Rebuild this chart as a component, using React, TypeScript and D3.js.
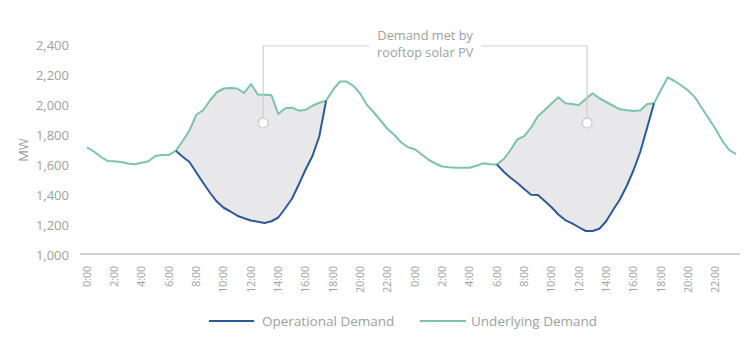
import React from "react";
import * as d3 from "d3";

const xTickLabels = [
  "0:00","2:00","4:00","6:00","8:00","10:00","12:00","14:00","16:00","18:00","20:00","22:00",
  "0:00","2:00","4:00","6:00","8:00","10:00","12:00","14:00","16:00","18:00","20:00","22:00",
];
const yTicks = [1000, 1200, 1400, 1600, 1800, 2000, 2200, 2400];

// half-hourly, two days (96 points)
const underlyingDemand = [
  1718,1690,1655,1627,1625,1620,1610,1605,1615,1625,1660,1667,1667,1695,1760,1830,
  1935,1965,2030,2085,2110,2113,2110,2080,2140,2070,2068,2065,1940,1978,1982,1962,
  1968,1995,2015,2029,2100,2156,2156,2127,2075,2000,1950,1895,1840,1800,1750,1718,
  1705,1670,1635,1610,1590,1585,1582,1582,1582,1595,1611,1605,1604,1640,1700,1771,
  1793,1850,1925,1967,2010,2051,2011,2007,2000,2040,2078,2045,2020,1995,1971,1965,
  1960,1965,2007,2011,2100,2184,2160,2130,2096,2051,1980,1910,1840,1760,1700,1673,
];
const operationalDemand: (number | null)[] = [
  null,null,null,null,null,null,null,null,null,null,null,null,null,1695,1655,1620,
  1550,1482,1415,1356,1315,1290,1262,1245,1230,1222,1213,1225,1250,1310,1375,1470,
  1570,1660,1790,2029,null,null,null,null,null,null,null,null,null,null,null,null,
  null,null,null,null,null,null,null,null,null,null,null,null,1604,1555,1515,1480,
  1440,1402,1400,1360,1318,1270,1233,1211,1185,1160,1160,1175,1225,1300,1370,1460,
  1565,1690,1850,2011,null,null,null,null,null,null,null,null,null,null,null,null,
];
const annotationText = ["Demand met by", "rooftop solar PV"];
const annotationAt = [25.8, 73.2]; // half-hour positions of the markers
const annotationValue = 1880;
const seriesNames = ["Operational Demand", "Underlying Demand"];

const GREEN = "#7dc3a7";
const BLUE = "#2d5a97";
const GREY = "#a0a0a0";
const FONT = "'Open Sans', Lato, sans-serif";

export default function App() {
  const W = 747, H = 344;
  const x = d3.scaleLinear().domain([0, 95]).range([87, 736]);
  const y = d3.scaleLinear().domain([1000, 2400]).range([255, 45]);

  const idx = underlyingDemand.map((_, i) => i);
  const greenLine = d3.line<number>().x((i) => x(i)).y((i) => y(underlyingDemand[i]))(idx) || "";
  const blueLine =
    d3
      .line<number>()
      .defined((i) => operationalDemand[i] != null)
      .x((i) => x(i))
      .y((i) => y(operationalDemand[i] as number))(idx) || "";
  const area =
    d3
      .area<number>()
      .defined((i) => operationalDemand[i] != null)
      .x((i) => x(i))
      .y0((i) => y(operationalDemand[i] as number))
      .y1((i) => y(underlyingDemand[i]))(idx) || "";

  const bracketY = 46;
  const ax0 = x(annotationAt[0]);
  const ax1 = x(annotationAt[1]);
  const cx = (ax0 + ax1) / 2;

  return (
    <svg width={W} height={H} style={{ position: "absolute", left: 0, top: 0, background: "#fff" }}>
      <path d={area} fill="#e8e8eb" />
      {yTicks.map((t) => (
        <text key={t} x={69} y={y(t)} dy="0.35em" textAnchor="end" fontFamily={FONT} fontSize={13} fill={GREY}>
          {d3.format(",")(t)}
        </text>
      ))}
      <text
        transform={`translate(23,${y(1700)}) rotate(-90)`}
        textAnchor="middle"
        dy="0.35em"
        fontFamily={FONT}
        fontSize={13}
        fill={GREY}
      >
        MW
      </text>
      <line x1={80} x2={740} y1={254} y2={254} stroke="#d2d2d2" strokeWidth={2} />
      {xTickLabels.map((l, k) => (
        <text
          key={k}
          transform={`translate(${x(k * 4)},266) rotate(-90)`}
          textAnchor="end"
          dy="0.35em"
          fontFamily={FONT}
          fontSize={10.5}
          fill={GREY}
        >
          {l}
        </text>
      ))}
      <path d={greenLine} fill="none" stroke={GREEN} strokeWidth={2} strokeLinejoin="round" />
      <path d={blueLine} fill="none" stroke={BLUE} strokeWidth={2} strokeLinejoin="round" />
      <path
        d={`M${ax0},${y(annotationValue)}V${bracketY}H${cx - 56}M${cx + 56},${bracketY}H${ax1}V${y(annotationValue)}`}
        fill="none"
        stroke="#cfcfcf"
        strokeWidth={1.2}
      />
      {[ax0, ax1].map((p, k) => (
        <circle key={k} cx={p} cy={y(annotationValue)} r={5} fill="#fff" stroke="#cfcfcf" strokeWidth={1.5} />
      ))}
      {annotationText.map((t, k) => (
        <text key={k} x={cx} y={36 + k * 17} dy="0.35em" textAnchor="middle" fontFamily={FONT} fontSize={12.8} fill={GREY}>
          {t}
        </text>
      ))}
      <line x1={209} x2={254} y1={321} y2={321} stroke={BLUE} strokeWidth={2} />
      <text x={262} y={321} dy="0.35em" fontFamily={FONT} fontSize={13.5} fill={GREY}>
        {seriesNames[0]}
      </text>
      <line x1={420} x2={466} y1={321} y2={321} stroke={GREEN} strokeWidth={2} />
      <text x={471} y={321} dy="0.35em" fontFamily={FONT} fontSize={13.5} fill={GREY}>
        {seriesNames[1]}
      </text>
    </svg>
  );
}
